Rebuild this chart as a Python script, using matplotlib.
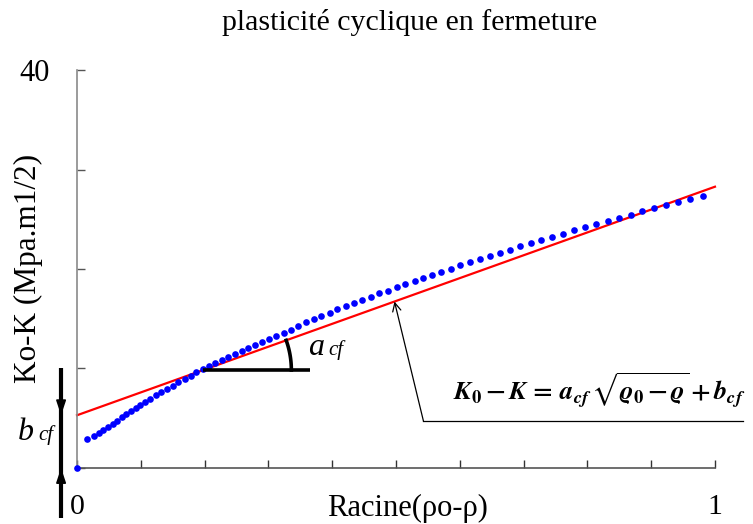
import numpy as np
import matplotlib
matplotlib.use("Agg")
import matplotlib.pyplot as plt
from matplotlib import transforms

plt.rcParams['font.family'] = ['Liberation Serif', 'DejaVu Serif']
plt.rcParams['mathtext.fontset'] = 'stix'

# ---- data ----
title = "plasticité cyclique en fermeture"
xlabel = "Racine(ρo-ρ)"
ylabel = "Ko-K (Mpa.m1/2)"

x_pts = [0.000, 0.016, 0.026, 0.034, 0.041, 0.049, 0.056, 0.062, 0.070, 0.077,
         0.084, 0.092, 0.099, 0.107, 0.115, 0.124, 0.132, 0.141, 0.150, 0.159,
         0.169, 0.178, 0.187, 0.197, 0.207, 0.217, 0.227, 0.237, 0.248, 0.258,
         0.268, 0.279, 0.290, 0.301, 0.312, 0.324, 0.336, 0.347, 0.359, 0.371,
         0.383, 0.396, 0.408, 0.421, 0.434, 0.447, 0.461, 0.474, 0.487, 0.501,
         0.514, 0.529, 0.542, 0.557, 0.571, 0.586, 0.601, 0.616, 0.631, 0.647,
         0.663, 0.678, 0.695, 0.712, 0.728, 0.745, 0.762, 0.779, 0.796, 0.813,
         0.832, 0.850, 0.868, 0.886, 0.904, 0.923, 0.942, 0.961, 0.981]
y_pts = [0.00, 2.91, 3.25, 3.55, 3.85, 4.15, 4.45, 4.76, 5.09, 5.39,
         5.69, 6.03, 6.33, 6.63, 6.97, 7.30, 7.60, 7.94, 8.27, 8.64,
         8.94, 9.28, 9.62, 9.92, 10.25, 10.55, 10.82, 11.12, 11.43, 11.73,
         12.03, 12.33, 12.66, 12.96, 13.30, 13.60, 13.87, 14.28, 14.67, 14.97,
         15.31, 15.61, 15.95, 16.25, 16.58, 16.92, 17.22, 17.56, 17.82, 18.16,
         18.46, 18.79, 19.10, 19.43, 19.73, 20.03, 20.37, 20.70, 21.01, 21.31,
         21.61, 21.93, 22.31, 22.61, 22.95, 23.25, 23.55, 23.89, 24.19, 24.52,
         24.86, 25.16, 25.46, 25.80, 26.10, 26.43, 26.76, 27.06, 27.37]

fit_a = 22.97   # slope a_cf
fit_b = 5.30    # intercept b_cf
fit_x = [0.0, 1.0]

x_ticks = [0, 0.1, 0.2, 0.3, 0.4, 0.5, 0.6, 0.7, 0.8, 0.9, 1.0]
x_ticklabels = ['0', '', '', '', '', '', '', '', '', '', '1']
y_ticks = [0, 10, 20, 30, 40]
y_ticklabels = ['', '', '', '', '40']

tangent_x = 0.198
callout_x = 0.4976

# ---- figure ----
fig = plt.figure(figsize=(7.53, 5.24), dpi=100)
ax = fig.add_axes([0.1023, 0.1069, 0.8472, 0.7595])
ax.set_xlim(0, 1)
ax.set_ylim(0, 40)

fit_y = [fit_b + fit_a * v for v in fit_x]
ax.plot(fit_x, fit_y, color='red', lw=1.6, zorder=2, clip_on=False)
ax.plot(x_pts, y_pts, 'o', color='blue', ms=4.8, mec='none', zorder=3, clip_on=False)

for s in ['top', 'right']:
    ax.spines[s].set_visible(False)
ax.spines['left'].set_color('#8a8a8a')
ax.spines['left'].set_linewidth(1.2)
ax.spines['bottom'].set_color('#555555')
ax.spines['bottom'].set_linewidth(1.2)

ax.set_xticks(x_ticks)
ax.set_xticklabels(x_ticklabels)
ax.set_yticks(y_ticks)
ax.set_yticklabels(y_ticklabels)
ax.tick_params(axis='x', direction='in', length=6, width=1, colors='#333333',
               labelcolor='black', labelsize=21.5, pad=19)
ax.tick_params(axis='y', direction='in', length=6, width=1, colors='#555555',
               labelcolor='black', labelsize=22, pad=20)

fig.text(410 / 753, 1 - 22 / 524, title, ha='center', va='center', fontsize=21.5)
fig.text(28 / 753, 1 - 268 / 524, ylabel, ha='center', va='center',
         rotation=90, fontsize=22.5)
fig.text(407 / 753, 1 - 508 / 524, xlabel, ha='center', va='center', fontsize=22)

# ---- b_cf dimension marker ----
bx = -0.025
ax.plot([bx, bx], [10.05, -5.0], color='black', lw=3, clip_on=False,
        solid_capstyle='butt', zorder=4)
arrow_style = '-|>,head_length=0.9,head_width=0.3'
ax.annotate('', xy=(bx, fit_b), xytext=(bx, fit_b + 3),
            arrowprops=dict(arrowstyle=arrow_style, color='black', lw=1.2,
                            shrinkA=0, shrinkB=0), annotation_clip=False)
ax.annotate('', xy=(bx, 0), xytext=(bx, -3),
            arrowprops=dict(arrowstyle=arrow_style, color='black', lw=1.2,
                            shrinkA=0, shrinkB=0), annotation_clip=False)
fig.text(18 / 753, 1 - 440 / 524, 'b', fontsize=23, style='italic',
         ha='left', va='baseline')
fig.text(38 / 753, 1 - 440 / 524, 'cf', fontsize=15, style='italic',
         ha='left', va='baseline')

# ---- a_cf angle marker ----
ty = fit_b + fit_a * tangent_x
p0 = ax.transData.transform((0, fit_b))
p1 = ax.transData.transform((1, fit_b + fit_a))
ang = np.arctan2(p1[1] - p0[1], p1[0] - p0[0])
tr = fig.dpi_scale_trans + transforms.ScaledTranslation(tangent_x, ty, ax.transData)
ax.plot([0, 1.07], [0, 0], color='black', lw=2.6, transform=tr,
        solid_capstyle='butt', zorder=4, clip_on=False)
th = np.linspace(0, ang, 40)
r = 0.88
ax.plot(r * np.cos(th), r * np.sin(th), color='black', lw=2.6, transform=tr,
        zorder=4, clip_on=False)
fig.text(308 / 753, 1 - 355 / 524, 'a', fontsize=23, style='italic',
         ha='left', va='baseline')
fig.text(328 / 753, 1 - 355 / 524, 'cf', fontsize=15, style='italic',
         ha='left', va='baseline')

# ---- formula callout ----
cy = fit_b + fit_a * callout_x
ax.plot([1.044, 0.543], [4.72, 4.72], color='black', lw=0.9, clip_on=False)
ax.annotate('', xy=(callout_x, cy), xytext=(0.543, 4.72),
            arrowprops=dict(arrowstyle='->,head_length=0.6,head_width=0.3',
                            color='black', lw=0.9, shrinkA=0, shrinkB=0),
            annotation_clip=False)
ax.text(0.590, 6.83,
        r'$\mathbfit{K}_{\mathbf{0}}\,\mathbf{-}\,\mathbfit{K}\,\mathbf{=}\,\mathbfit{a}_{\mathbfit{cf}}\,'
        r'\sqrt{\mathbfit{\varrho}_{\mathbf{0}}\,\mathbf{-}\,\mathbfit{\varrho}}\,\mathbf{+}\,\mathbfit{b}_{\mathbfit{cf}}$',
        ha='left', va='baseline', fontsize=19, clip_on=False)

fig.savefig('out.png', dpi=100)
